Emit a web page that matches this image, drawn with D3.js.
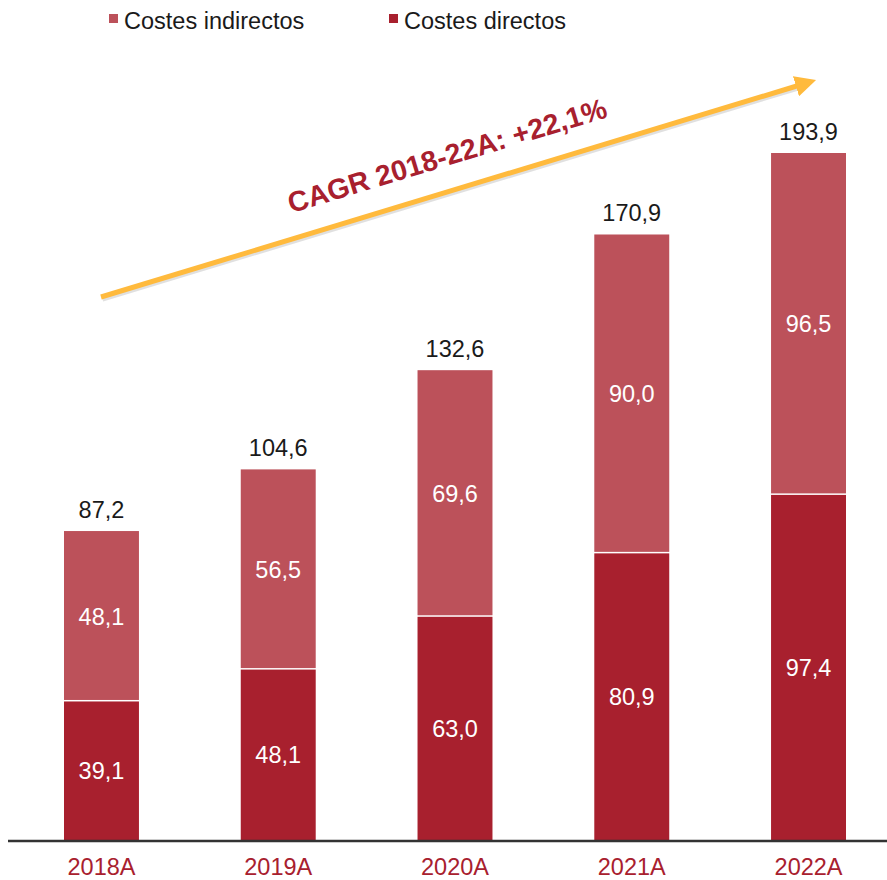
<html>
<meta charset="utf-8">
<script src="https://cdn.jsdelivr.net/npm/d3@7"></script>
<style>
body{ margin:0; background:white; }
text{ font-family: "Liberation Sans", Arial, sans-serif; }
</style>
<body>
<div id="chart"></div>
<script>
var years = ["2018A","2019A","2020A","2021A","2022A"];
var directos = [39.1, 48.1, 63.0, 80.9, 97.4];
var indirectos = [48.1, 56.5, 69.6, 90.0, 96.5];
var totales = [87.2, 104.6, 132.6, 170.9, 193.9];
var seriesNames = ["Costes indirectos", "Costes directos"];
var cagrLabel = "CAGR 2018-22A: +22,1%";

var colDirect = "#a8202e",
    colIndirect = "#bc515a",
    arrowCol = "#ffba3d";

var width = 887, height = 880;
var baseY = 840;

var svg = d3.select("#chart").append("svg").attr("width", width).attr("height", height);

var x = d3.scaleBand().domain(years).range([64, 846]).paddingInner(0.576).paddingOuter(0);
var y = d3.scaleLinear().domain([0, 193.9]).range([baseY, 153]);

var fmt = function(v){ return d3.format(".1f")(v).replace(".", ","); };

var rows = years.map(function(yr, i){
  return {year: yr, d: directos[i], ind: indirectos[i], tot: totales[i]};
});

var g = svg.append("g");

// direct segment
g.selectAll(".dir").data(rows).enter().append("rect")
  .attr("class","dir")
  .attr("x", function(d){ return x(d.year); })
  .attr("width", x.bandwidth())
  .attr("y", function(d){ return y(d.d); })
  .attr("height", function(d){ return baseY - y(d.d); })
  .style("fill", colDirect);

// indirect segment
g.selectAll(".ind").data(rows).enter().append("rect")
  .attr("class","ind")
  .attr("x", function(d){ return x(d.year); })
  .attr("width", x.bandwidth())
  .attr("y", function(d){ return y(d.d + d.ind); })
  .attr("height", function(d){ return y(d.d) - y(d.d + d.ind) - 1.5; })
  .style("fill", colIndirect);

// inner labels
g.selectAll(".lblD").data(rows).enter().append("text")
  .attr("x", function(d){ return x(d.year) + x.bandwidth()/2; })
  .attr("y", function(d){ return (y(d.d) + baseY)/2 + 8.5; })
  .attr("text-anchor","middle").style("font-size","23.5px").style("fill","white")
  .text(function(d){ return fmt(d.d); });

g.selectAll(".lblI").data(rows).enter().append("text")
  .attr("x", function(d){ return x(d.year) + x.bandwidth()/2; })
  .attr("y", function(d){ return (y(d.d) + y(d.d + d.ind))/2 + 8.5; })
  .attr("text-anchor","middle").style("font-size","23.5px").style("fill","white")
  .text(function(d){ return fmt(d.ind); });

// totals
g.selectAll(".lblT").data(rows).enter().append("text")
  .attr("x", function(d){ return x(d.year) + x.bandwidth()/2; })
  .attr("y", function(d){ return y(d.tot) - 13; })
  .attr("text-anchor","middle").style("font-size","23.5px").style("fill","#1a1a1a")
  .text(function(d){ return fmt(d.tot); });

// axis
var axis = svg.append("g").attr("transform","translate(0," + baseY + ")")
  .call(d3.axisBottom(x).tickSize(0).tickPadding(18));
axis.select(".domain").remove();
axis.selectAll("text").style("font-size","23.5px").style("fill", colDirect)
  .style("font-family", '"Liberation Sans", Arial, sans-serif');
svg.append("line").attr("x1", 8).attr("x2", width).attr("y1", baseY + 1).attr("y2", baseY + 1)
  .style("stroke","#333").style("stroke-width", 2.5);

// legend
var legend = svg.append("g");
var legX = [109, 389];
var legCols = [colIndirect, colDirect];
seriesNames.forEach(function(n, i){
  legend.append("rect").attr("x", legX[i]).attr("y", 14).attr("width", 9).attr("height", 9).style("fill", legCols[i]);
  legend.append("text").attr("x", legX[i] + 15).attr("y", 28.5).style("font-size","23.5px").style("fill","#1a1a1a").text(n);
});

// CAGR arrow
var defs = svg.append("defs");
defs.append("marker").attr("id","arrowHead").attr("viewBox","0 0 10 10")
  .attr("refX", 2).attr("refY", 5).attr("markerWidth", 4.2).attr("markerHeight", 4.2)
  .attr("orient","auto").attr("markerUnits","strokeWidth")
  .append("path").attr("d","M0,0 L10,5 L0,10 z").style("fill", arrowCol);
var ax0 = 101, ay0 = 297, ax1 = 800, ay1 = 85;
svg.append("line").attr("x1", ax0 + 1.5).attr("y1", ay0 + 2).attr("x2", ax1 + 1.5).attr("y2", ay1 + 2)
  .style("stroke","#000").style("stroke-opacity",0.12).style("stroke-width",5);
svg.append("line").attr("x1", ax0).attr("y1", ay0).attr("x2", ax1).attr("y2", ay1)
  .style("stroke", arrowCol).style("stroke-width", 5).attr("marker-end","url(#arrowHead)");

var ang = Math.atan2(ay1 - ay0, ax1 - ax0) * 180 / Math.PI;
svg.append("text")
  .attr("transform","translate(450,165) rotate(" + ang + ")")
  .attr("text-anchor","middle")
  .style("font-size","28.5px").style("font-weight","bold").style("fill", colDirect)
  .text(cagrLabel);
</script>
</body>
</html>
